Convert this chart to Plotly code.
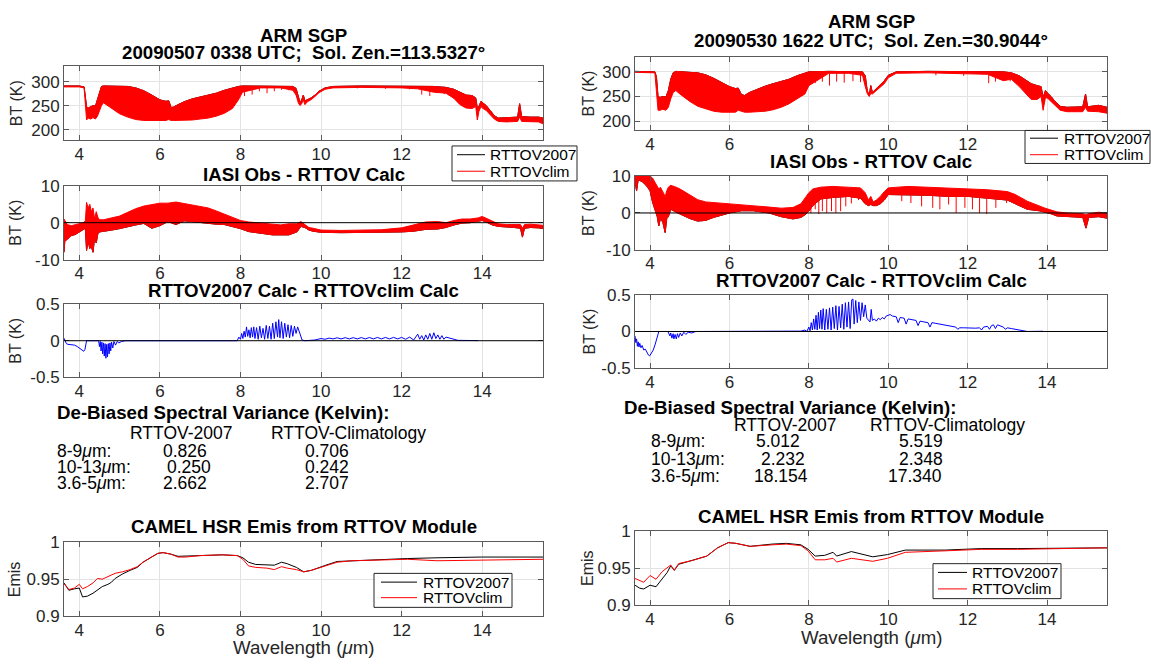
import plotly.graph_objects as go

FONT = "Liberation Sans, Arial, Helvetica, sans-serif"
W, H = 1151, 664

# ------------------------------------------------------------------ data
x_ticks = [4, 6, 8, 10, 12, 14]
legend_labels = ["RTTOV2007", "RTTOVclim"]

# ---- Left case (20090507 0338 UTC): simulated BT band (K)
wl_bt_l = [3.62, 4.00, 4.12, 4.15, 4.18, 4.22, 4.28, 4.34, 4.40, 4.45, 4.50, 4.55, 4.60, 4.70,
           4.80, 5.00, 5.20, 5.40, 5.60, 5.80, 6.00, 6.15, 6.22, 6.28, 6.34, 6.45, 6.60, 6.80,
           7.00, 7.20, 7.40, 7.60, 7.80, 7.95, 8.05, 8.50, 9.00, 9.30, 9.38, 9.44, 9.48, 9.52,
           9.56, 9.60, 9.66, 9.75, 9.85, 9.95, 10.10, 10.30, 11.00, 12.00, 12.40, 12.80, 13.10,
           13.30, 13.45, 13.60, 13.75, 13.84, 13.88, 13.92, 13.97, 14.02, 14.10, 14.20, 14.30,
           14.40, 14.60, 14.88, 14.93, 14.98, 15.20, 15.40, 15.51]
bt_hi_l = [291, 291, 289, 260, 248, 245, 247, 250, 249, 262, 280, 290, 291, 291,
           291, 290, 290, 287, 281, 272, 262, 259, 260, 246, 247, 252, 258, 264,
           268, 272, 276, 282, 287, 290, 291, 291, 291, 290, 286, 265, 256, 262,
           272, 260, 262, 266, 272, 280, 287, 290, 291, 291, 291, 290, 288,
           284, 278, 272, 271, 266, 245, 248, 259, 256, 250, 240, 229,
           224, 225, 226, 254, 227, 226, 226, 224]
bt_lo_l = [289, 289, 287, 240, 220, 224, 222, 225, 222, 228, 240, 250, 256, 250,
           245, 233, 226, 221, 219, 219, 219, 219, 221, 219, 219, 219, 219, 220,
           222, 224, 228, 234, 244, 262, 278, 287, 287, 282, 272, 255, 250, 254,
           262, 252, 258, 262, 269, 277, 284, 287, 288, 287, 285, 278, 276,
           265, 252, 245, 244, 248, 220, 238, 248, 244, 240, 232, 222,
           217, 216, 217, 226, 217, 217, 216, 212]
spk_bt_l_wl = [8.10, 8.29, 8.47, 8.66, 8.84, 9.02, 9.20, 10.90, 11.60, 12.20, 12.50, 12.70, 12.88, 13.06]
spk_bt_l_top = [289, 289, 289, 289, 289, 289, 289, 289, 289, 289, 289, 289, 289, 289]
spk_bt_l_bot = [270, 273, 280, 276, 280, 283, 282, 286, 285, 284, 273, 270, 276, 274]

# ---- Left case: IASI obs - RTTOV calc band (K)
wl_oc_l = [3.62, 3.64, 3.70, 3.80, 3.90, 4.00, 4.10, 4.15, 4.18, 4.22, 4.26, 4.30, 4.34, 4.38,
           4.42, 4.46, 4.50, 4.60, 4.80, 5.00, 5.20, 5.40, 5.60, 5.80, 6.00, 6.20, 6.40, 6.60,
           6.80, 7.00, 7.20, 7.40, 7.60, 7.80, 8.00, 8.20, 8.40, 8.60, 8.80, 9.00, 9.20, 9.40,
           9.50, 9.60, 9.70, 9.80, 10.00, 10.50, 11.00, 11.50, 12.00, 12.30, 12.60, 12.90, 13.10,
           13.30, 13.50, 13.70, 13.90, 14.00, 14.10, 14.25, 14.40, 14.60, 14.80, 14.95, 15.00,
           15.05, 15.20, 15.40, 15.51]
oc_hi_l = [1.0, 0.5, -0.5, -0.8, -0.6, -0.3, 0.0, 0.5, 5.5, 4.0, 5.0, 3.0, 4.0, 1.0,
           3.0, 1.5, 0.8, 0.8, 1.2, 1.8, 2.8, 3.8, 4.5, 5.0, 5.3, 5.3, 5.6, 5.2,
           4.8, 4.5, 4.0, 3.2, 2.3, 1.5, 0.6, 0.2, 0.0, -0.2, -0.5, -0.6, -0.3, -0.3,
           0.3, -0.5, -1.3, -1.5, -2.0, -2.1, -2.1, -1.9, -1.4, -0.6, 0.2, 0.3, 0.0,
           0.6, 1.0, 1.0, 1.3, 1.7, 1.2, 0.3, -0.3, -0.5, -0.6, -0.5, -1.5,
           -0.5, -0.4, -0.5, -0.7]
oc_lo_l = [-8.0, -5.0, -4.5, -3.5, -3.2, -2.5, -2.0, -1.5, -7.5, -5.0, -7.0, -6.5, -8.0, -4.0,
           -5.5, -3.0, -2.5, -2.4, -2.0, -1.6, -1.0, -0.6, -0.2, -1.5, -0.8, 0.3, -0.5, 0.5,
           0.3, 0.0, -0.2, -0.4, -0.5, -1.0, -1.6, -2.4, -2.8, -3.0, -3.3, -3.4, -3.3, -2.5,
           -1.0, -1.3, -2.0, -2.3, -2.6, -2.7, -2.7, -2.6, -2.5, -2.3, -1.8, -1.7, -1.3,
           -0.6, -0.1, 0.0, 0.3, 0.6, 0.2, -0.6, -1.0, -1.1, -1.3, -1.5, -3.9,
           -1.5, -1.3, -1.4, -1.6]

# ---- Left case: RTTOV2007 calc - RTTOVclim calc (K)
wl_dd_l = [3.62, 3.65, 3.68, 3.72, 3.80, 3.88, 3.95, 4.02, 4.08, 4.11, 4.14, 4.16, 4.18, 4.48,
           4.50, 4.52, 4.54, 4.56, 4.58, 4.60, 4.62, 4.64, 4.66, 4.68, 4.70, 4.72, 4.74, 4.76,
           4.78, 4.80, 4.83, 4.86, 4.90, 4.94, 4.98, 5.05, 5.15, 7.90,
           7.92, 7.96, 8.00, 8.03, 8.06, 8.09, 8.12, 8.15, 8.18, 8.21, 8.24, 8.27, 8.30, 8.33,
           8.36, 8.40, 8.44, 8.48, 8.52, 8.56, 8.60, 8.64, 8.68, 8.72, 8.76, 8.80, 8.84, 8.88,
           8.92, 8.95, 8.98, 9.02, 9.06, 9.10, 9.14, 9.18, 9.22, 9.26, 9.30, 9.34, 9.38, 9.42,
           9.46, 9.50, 9.53, 9.60, 9.75, 9.85, 10.00, 10.10, 10.20, 10.30, 10.40, 10.50, 10.60,
           10.70, 10.80, 10.90, 11.00, 11.10, 11.20, 11.30, 11.40, 11.50, 11.60, 11.70, 11.80,
           11.90, 12.00, 12.10, 12.20, 12.30, 12.40, 12.45, 12.50, 12.55, 12.60, 12.65, 12.70,
           12.75, 12.80, 12.85, 12.90, 12.95, 13.00, 13.05, 13.10, 13.20, 13.30, 13.40, 13.90]
dd_l = [0.035, 0.0, -0.04, -0.05, -0.055, -0.06, -0.08, -0.11, -0.14, -0.145, -0.12, -0.03, 0.0, 0.0,
        -0.08, -0.01, -0.14, -0.02, -0.18, -0.03, -0.21, -0.04, -0.24, -0.05, -0.22, -0.04, -0.18, -0.03,
        -0.14, -0.02, -0.10, -0.01, -0.06, -0.01, -0.03, -0.01, 0.0, 0.0,
        0.0, 0.05, 0.02, 0.10, 0.03, 0.13, 0.05, 0.19, 0.06, 0.15, 0.04, 0.18, 0.05, 0.19,
        0.03, 0.18, 0.02, 0.20, 0.04, 0.17, 0.02, 0.21, 0.03, 0.20, 0.02, 0.24, 0.03, 0.26,
        0.05, 0.29, 0.04, 0.26, 0.03, 0.24, 0.05, 0.22, 0.04, 0.21, 0.06, 0.20, 0.10, 0.19,
        0.12, 0.08, 0.01, 0.0, 0.0, 0.01, 0.03, 0.02, 0.036, 0.025, 0.04, 0.025, 0.042,
        0.025, 0.042, 0.025, 0.043, 0.025, 0.044, 0.025, 0.045, 0.025, 0.045, 0.025, 0.046,
        0.025, 0.046, 0.02, 0.05, 0.01, 0.09, 0.02, 0.07, 0.01, 0.08, 0.02, 0.10,
        0.02, 0.11, 0.03, 0.08, 0.02, 0.07, 0.02, 0.05, 0.03, 0.02, 0.005, 0.002]

# ---- Left case: CAMEL HSR emissivity
wl_em_l = [3.62, 3.74, 3.88, 4.00, 4.08, 4.20, 4.34, 4.45, 4.57, 4.71, 4.80, 4.89, 5.07, 5.26,
           5.44, 5.58, 5.76, 5.95, 6.08, 6.27, 6.45, 6.64, 7.00, 7.55, 7.92, 8.06, 8.20, 8.38,
           8.66, 8.84, 9.02, 9.16, 9.39, 9.57, 9.76, 9.94, 10.12, 10.40, 10.77, 11.23, 12.15,
           12.88, 13.98, 15.51]
em_2007_l = [0.945, 0.935, 0.937, 0.938, 0.926, 0.927, 0.931, 0.935, 0.940, 0.943, 0.946, 0.951,
             0.957, 0.962, 0.966, 0.973, 0.979, 0.985, 0.986, 0.984, 0.981, 0.981, 0.982, 0.983,
             0.982, 0.979, 0.973, 0.970, 0.970, 0.969, 0.973, 0.971, 0.966, 0.960, 0.962, 0.966,
             0.969, 0.974, 0.975, 0.976, 0.978, 0.979, 0.980, 0.980]
em_clim_l = [0.944, 0.936, 0.938, 0.943, 0.937, 0.940, 0.945, 0.951, 0.950, 0.954, 0.956, 0.958,
             0.960, 0.963, 0.967, 0.973, 0.979, 0.985, 0.986, 0.984, 0.980, 0.980, 0.982, 0.983,
             0.982, 0.977, 0.968, 0.966, 0.965, 0.963, 0.967, 0.965, 0.963, 0.960, 0.962, 0.965,
             0.968, 0.973, 0.975, 0.976, 0.977, 0.975, 0.976, 0.977]

# ---- Right case (20090530 1622 UTC): simulated BT band (K)
wl_bt_r = [3.62, 4.00, 4.12, 4.16, 4.20, 4.25, 4.32, 4.40, 4.46, 4.52, 4.58, 4.65, 4.75, 5.00,
           5.20, 5.40, 5.60, 5.80, 6.00, 6.15, 6.22, 6.30, 6.38, 6.50, 6.70, 6.90, 7.10, 7.30,
           7.50, 7.70, 7.90, 8.00, 8.50, 9.00, 9.35, 9.42, 9.47, 9.52, 9.56, 9.60, 9.70, 9.80,
           9.90, 10.00, 10.20, 11.00, 12.00, 12.50, 12.90, 13.10, 13.30, 13.45, 13.60, 13.75,
           13.85, 13.90, 13.96, 14.02, 14.10, 14.20, 14.33, 14.50, 14.90, 14.97, 15.02, 15.30, 15.51]
bt_hi_r = [301, 301, 300, 290, 250, 248, 250, 249, 262, 285, 298, 301, 300, 299,
           298, 294, 287, 278, 270, 266, 267, 254, 252, 258, 265, 271, 276, 280,
           285, 292, 298, 300, 301, 301, 300, 292, 262, 252, 272, 258, 266, 272,
           282, 293, 300, 301, 301, 301, 300, 298, 292, 284, 276, 272,
           270, 248, 262, 256, 250, 240, 230, 228, 229, 255, 229, 232, 228]
bt_lo_r = [299, 299, 298, 260, 222, 222, 224, 222, 228, 245, 258, 262, 255, 240,
           230, 225, 220, 218, 218, 218, 222, 220, 218, 218, 219, 220, 223, 228,
           235, 245, 255, 272, 297, 297, 293, 270, 256, 250, 256, 255, 262, 268,
           276, 288, 297, 298, 297, 295, 282, 285, 270, 258, 244, 244,
           250, 222, 248, 246, 240, 232, 222, 219, 219, 228, 220, 219, 216]
spk_bt_r_wl = [8.16, 8.34, 8.52, 8.70, 8.89, 9.11, 9.30, 11.20, 11.90, 12.53, 12.70, 12.89, 13.07]
spk_bt_r_top = [299, 299, 299, 299, 299, 299, 299, 299, 299, 299, 299, 299, 299]
spk_bt_r_bot = [277, 280, 272, 280, 278, 281, 279, 293, 292, 277, 280, 284, 281]

# ---- Right case: IASI obs - RTTOV calc band (K)
wl_oc_r = [3.62, 3.66, 3.70, 3.80, 3.90, 4.00, 4.06, 4.12, 4.18, 4.22, 4.26, 4.32, 4.38, 4.42,
           4.46, 4.52, 4.60, 4.70, 4.80, 5.00, 5.20, 5.40, 5.60, 5.80, 6.00, 6.30, 6.60, 7.00,
           7.30, 7.60, 7.80, 7.90, 8.00, 8.10, 8.30, 8.60, 9.00, 9.30, 9.42, 9.50, 9.56, 9.62,
           9.70, 9.80, 9.90, 10.00, 10.50, 11.00, 11.50, 12.00, 12.50, 13.00, 13.20, 13.50,
           13.80, 13.95, 14.10, 14.25, 14.50, 14.90, 14.98, 15.05, 15.30, 15.51]
oc_hi_r = [10, 10, 10, 10, 10, 10, 9.5, 8.5, 7.5, 6.5, 7.0, 5.5, 4.5, 6.0,
           7.0, 7.5, 7.2, 6.8, 6.2, 5.0, 3.6, 3.0, 2.8, 2.6, 2.5, 2.3, 2.0, 1.6,
           1.3, 1.5, 2.5, 4.0, 5.5, 6.5, 7.0, 7.2, 7.0, 6.8, 5.5, 3.5, 4.5, 3.0,
           3.5, 4.5, 5.8, 6.8, 7.2, 7.0, 6.8, 6.6, 6.3, 5.8, 5.0, 3.2,
           1.8, 1.3, 0.8, 0.3, 0.0, -0.2, -0.5, -0.2, 0.2, 0.0]
oc_lo_r = [8.5, 6.0, 9.0, 8.5, 7.5, 6.0, 3.0, 1.0, -1.0, -3.5, -1.5, -2.5, -5.3, -1.5,
           -1.0, 1.0, 0.5, 0.0, -0.5, -1.5, -2.2, -2.0, -1.2, -0.5, 0.0, 0.6, 0.6, 0.0,
           -1.0, -1.6, -1.2, -0.5, 0.5, 2.0, 3.8, 4.2, 4.5, 4.0, 2.5, 2.0, 2.3, 2.0,
           2.0, 2.5, 3.5, 5.0, 5.0, 4.8, 4.5, 4.5, 4.0, 3.5, 2.5, 1.0,
           0.6, 0.3, -0.2, -0.8, -1.0, -1.2, -4.1, -1.2, -1.0, -1.4]
spk_oc_r_wl = [8.05, 8.16, 8.25, 8.34, 8.45, 8.57, 8.68, 8.80, 8.93, 9.07, 9.25, 10.34, 10.57,
               10.84, 11.12, 11.30, 11.52, 11.71, 11.93, 12.12, 12.30, 12.48, 12.71, 12.98]
spk_oc_r_top = [4.5, 4.5, 4.5, 4.5, 4.5, 4.5, 4.5, 4.5, 4.5, 4.5, 4.5, 5.0, 5.0,
                5.0, 4.8, 4.8, 4.5, 4.5, 4.5, 4.5, 4.5, 4.0, 4.0, 3.5]
spk_oc_r_bot = [0.0, 1.0, -0.3, 0.5, 0.0, 0.5, 0.0, 0.5, 1.8, 2.6, 3.5, 3.2, 2.7,
                1.8, 1.4, 1.0, 2.3, 0.0, 1.4, 1.0, 0.0, -0.3, 1.4, 2.7]

# ---- Right case: RTTOV2007 calc - RTTOVclim calc (K)
wl_dd_r = [3.62, 3.64, 3.66, 3.68, 3.70, 3.72, 3.74, 3.77, 3.80, 3.84, 3.88, 3.92, 3.96, 3.99,
           4.03, 4.08, 4.13, 4.18, 4.22, 4.45, 4.48, 4.50, 4.52, 4.55, 4.58, 4.60, 4.63, 4.66,
           4.69, 4.72, 4.76, 4.80, 4.85, 4.90, 4.96, 5.05, 5.15, 7.45, 7.60, 7.80, 7.90, 7.95,
           8.00, 8.03, 8.06, 8.09, 8.12, 8.15, 8.18, 8.21, 8.24, 8.27, 8.30, 8.33, 8.36, 8.40,
           8.44, 8.48, 8.52, 8.56, 8.60, 8.64, 8.68, 8.72, 8.76, 8.80, 8.84, 8.88, 8.92, 8.96,
           9.00, 9.04, 9.08, 9.11, 9.14, 9.18, 9.22, 9.26, 9.30, 9.34, 9.38, 9.42, 9.46, 9.50,
           9.54, 9.57, 9.60, 9.65, 9.70, 9.75, 9.80, 9.85, 9.90, 9.95, 10.00, 10.05, 10.10,
           10.20, 10.25, 10.30, 10.40, 10.45, 10.50, 10.60, 10.70, 10.75, 10.80, 10.90, 11.00,
           11.05, 11.10, 11.20, 11.30, 11.40, 11.50, 11.60, 11.70, 11.75, 11.80, 11.90, 12.00,
           12.10, 12.20, 12.30, 12.35, 12.40, 12.50, 12.55, 12.60, 12.65, 12.70, 12.75, 12.80,
           12.90, 12.95, 13.00, 13.10, 13.20, 13.30, 13.40, 13.50, 13.90]
dd_r = [-0.06, -0.15, -0.10, -0.20, -0.14, -0.21, -0.16, -0.22, -0.19, -0.25, -0.24, -0.29, -0.32, -0.33,
        -0.30, -0.25, -0.17, -0.08, 0.0, 0.0, -0.03, -0.06, -0.02, -0.09, -0.03, -0.10, -0.04, -0.10,
        -0.03, -0.08, -0.02, -0.06, -0.01, -0.04, -0.01, -0.02, 0.0, 0.0, 0.01, 0.005, 0.02, 0.0,
        0.06, 0.01, 0.12, 0.02, 0.17, 0.03, 0.22, 0.02, 0.26, 0.04, 0.29, 0.03, 0.31, 0.02,
        0.30, 0.03, 0.32, 0.02, 0.33, 0.04, 0.35, 0.02, 0.34, 0.05, 0.37, 0.03, 0.39, 0.06,
        0.40, 0.04, 0.43, 0.44, 0.10, 0.42, 0.12, 0.40, 0.15, 0.39, 0.20, 0.36, 0.18, 0.16,
        0.13, 0.30, 0.15, 0.17, 0.14, 0.18, 0.16, 0.19, 0.17, 0.21, 0.22, 0.23, 0.21,
        0.20, 0.12, 0.19, 0.18, 0.10, 0.17, 0.16, 0.15, 0.08, 0.14, 0.13, 0.12,
        0.06, 0.12, 0.11, 0.10, 0.10, 0.08, 0.07, 0.06, 0.03, 0.05, 0.05, 0.045,
        0.05, 0.045, 0.05, 0.02, 0.06, 0.07, 0.03, 0.08, 0.09, 0.04, 0.09, 0.08,
        0.06, 0.03, 0.05, 0.04, 0.03, 0.02, 0.01, 0.0, 0.003]

# ---- Right case: CAMEL HSR emissivity
wl_em_r = [3.62, 3.74, 3.84, 4.00, 4.15, 4.30, 4.43, 4.52, 4.61, 4.72, 5.06, 5.43, 5.70, 5.97,
           6.16, 6.52, 7.07, 7.43, 7.80, 7.98, 8.16, 8.40, 8.61, 8.70, 9.07, 9.43, 9.61, 9.98,
           10.43, 11.43, 12.34, 13.25, 15.51]
em_2007_r = [0.927, 0.923, 0.922, 0.927, 0.925, 0.935, 0.944, 0.953, 0.947, 0.955, 0.960, 0.966,
             0.977, 0.984, 0.983, 0.979, 0.982, 0.983, 0.981, 0.975, 0.966, 0.967, 0.971, 0.966,
             0.972, 0.968, 0.965, 0.968, 0.974, 0.974, 0.976, 0.976, 0.977]
em_clim_r = [0.936, 0.933, 0.931, 0.940, 0.935, 0.945, 0.951, 0.954, 0.947, 0.956, 0.960, 0.966,
             0.977, 0.984, 0.983, 0.979, 0.981, 0.982, 0.980, 0.973, 0.961, 0.961, 0.963, 0.958,
             0.963, 0.960, 0.959, 0.963, 0.971, 0.973, 0.975, 0.975, 0.977]

# ---- De-biased spectral variance tables (K)
var_bands = ["8-9<i>μ</i>m:", "10-13<i>μ</i>m:", "3.6-5<i>μ</i>m:"]
var_2007_l = ["0.826", "0.250", "2.662"]
var_clim_l = ["0.706", "0.242", "2.707"]
var_2007_r = ["5.012", "2.232", "18.154"]
var_clim_r = ["5.519", "2.348", "17.340"]

# ------------------------------------------------------------------ layout helpers
def fx(p):
    return p / W


def fy(p):
    return 1 - p / H


AX = "#5a5a5a"
GRID = "#e3e3e3"
TICKC = "#262626"
X_RANGE = [3.62, 15.51]
RED, BLACK, BLUE = "#ff0000", "#000000", "#0000ff"

col_l = (64, 543)
col_r = (635, 1107)
rows_l = [(59, 135), (182, 258), (304, 379), (549, 625)]
rows_r = [(49, 125), (172, 248), (294, 370), (537, 614)]

y_specs = [
    dict(range=[178, 332], tickvals=[200, 250, 300], ticktext=["200", "250", "300"]),
    dict(range=[-10, 10], tickvals=[-10, 0, 10], ticktext=["-10", "0", "10"]),
    dict(range=[-0.5, 0.5], tickvals=[-0.5, 0, 0.5], ticktext=["-0.5", "0", "0.5"]),
    dict(range=[0.9, 1.0], tickvals=[0.9, 0.95, 1.0], ticktext=["0.9", "0.95", "1"]),
]
y_specs_r = [dict(y_specs[0], range=[181, 331])] + y_specs[1:]

layout = dict(
    width=W, height=H, margin=dict(l=0, r=0, t=0, b=0),
    paper_bgcolor="white", plot_bgcolor="white",
    font=dict(family=FONT, size=17, color=TICKC),
    showlegend=False,
)

common_axis = dict(
    ticks="inside", ticklen=5, tickcolor=AX, tickwidth=1,
    showline=True, linecolor=AX, linewidth=1, mirror="ticks",
    showgrid=True, gridcolor=GRID, gridwidth=1, zeroline=False,
    tickfont=dict(family=FONT, size=17, color=TICKC), fixedrange=True,
)

for c, (col, rows, ys) in enumerate([(col_l, rows_l, y_specs), (col_r, rows_r, y_specs_r)]):
    for r in range(4):
        i = c * 4 + r + 1
        top, bot = rows[r]
        layout[f"xaxis{i}"] = dict(
            common_axis, domain=[fx(col[0]), fx(col[1])], anchor=f"y{i}",
            range=X_RANGE, tickvals=x_ticks, ticktext=[str(t) for t in x_ticks],
            ticklabelstandoff=-2,
        )
        layout[f"yaxis{i}"] = dict(
            common_axis, domain=[fy(bot), fy(top)], anchor=f"x{i}",
            range=ys[r]["range"], tickvals=ys[r]["tickvals"], ticktext=ys[r]["ticktext"],
        )

fig = go.Figure(layout=layout)


def line(ax, x, y, color, name=""):
    fig.add_trace(go.Scatter(
        x=x, y=y, mode="lines", line=dict(color=color, width=1),
        xaxis=f"x{ax}", yaxis=f"y{ax}", name=name, hoverinfo="skip",
    ))


def band(ax, x, hi, lo, color, name=""):
    fig.add_trace(go.Scatter(
        x=x, y=hi, mode="lines", line=dict(color=color, width=1),
        xaxis=f"x{ax}", yaxis=f"y{ax}", name=name, hoverinfo="skip",
    ))
    fig.add_trace(go.Scatter(
        x=x, y=lo, mode="lines", line=dict(color=color, width=1), fill="tonexty",
        fillcolor=color, xaxis=f"x{ax}", yaxis=f"y{ax}", name=name, hoverinfo="skip",
    ))


def spikes(ax, wl, top, bot, color):
    xs, ys = [], []
    for w, t, b in zip(wl, top, bot):
        xs += [w, w, None]
        ys += [t, b, None]
    fig.add_trace(go.Scatter(
        x=xs, y=ys, mode="lines", line=dict(color=color, width=1),
        xaxis=f"x{ax}", yaxis=f"y{ax}", hoverinfo="skip",
    ))


# ---- left column
line(1, wl_bt_l, bt_hi_l, BLACK, legend_labels[0])
band(1, wl_bt_l, bt_hi_l, bt_lo_l, RED, legend_labels[1])
spikes(1, spk_bt_l_wl, spk_bt_l_top, spk_bt_l_bot, RED)
line(2, wl_oc_l, oc_lo_l, BLACK, legend_labels[0])
band(2, wl_oc_l, oc_hi_l, oc_lo_l, RED, legend_labels[1])
line(3, wl_dd_l, dd_l, BLUE)
line(4, wl_em_l, em_2007_l, BLACK, legend_labels[0])
line(4, wl_em_l, em_clim_l, RED, legend_labels[1])

# ---- right column
line(5, wl_bt_r, bt_hi_r, BLACK, legend_labels[0])
band(5, wl_bt_r, bt_hi_r, bt_lo_r, RED, legend_labels[1])
spikes(5, spk_bt_r_wl, spk_bt_r_top, spk_bt_r_bot, RED)
line(6, wl_oc_r, oc_lo_r, BLACK, legend_labels[0])
band(6, wl_oc_r, oc_hi_r, oc_lo_r, RED, legend_labels[1])
spikes(6, spk_oc_r_wl, spk_oc_r_top, spk_oc_r_bot, RED)
line(7, wl_dd_r, dd_r, BLUE)
line(8, wl_em_r, em_2007_r, BLACK, legend_labels[0])
line(8, wl_em_r, em_clim_r, RED, legend_labels[1])

shapes = []
# zero reference lines in the difference panels (drawn above the data)
for ax in (2, 3, 6, 7):
    shapes.append(dict(type="line", xref=f"x{ax}", yref=f"y{ax}", x0=X_RANGE[0], x1=X_RANGE[1],
                       y0=0, y1=0, line=dict(color="black", width=1), layer="above"))

ann = []


def text(x, y, s, size=17.5, bold=False, anchor="center", color="black", angle=0):
    ann.append(dict(
        x=fx(x), y=fy(y), xref="paper", yref="paper", text=f"<b>{s}</b>" if bold else s,
        showarrow=False, xanchor=anchor, yanchor="middle", textangle=angle,
        font=dict(family=FONT, size=size, color=color),
    ))


# ---- MATLAB-style legend boxes (box, line sample x-extent, text x, row y's)
legend_boxes = [
    ((452, 577, 141, 177), (457, 485), 488, (150, 167)),
    ((1025, 1150, 125, 159), (1030, 1058), 1062, (133, 150)),
    ((374, 512, 581, 616), (381, 417), 421, (590, 606)),
    ((933, 1061, 571, 607), (938, 967), 970, (580, 597)),
]
for (bx0, bx1, by0, by1), (lx0, lx1), tx, rws in legend_boxes:
    shapes.append(dict(type="rect", xref="paper", yref="paper", x0=fx(bx0), x1=fx(bx1),
                       y0=fy(by1), y1=fy(by0), line=dict(color="#262626", width=1),
                       fillcolor="white", layer="above"))
    for yy, colr, lab in zip(rws, [BLACK, RED], legend_labels):
        shapes.append(dict(type="line", xref="paper", yref="paper", x0=fx(lx0), x1=fx(lx1),
                           y0=fy(yy), y1=fy(yy), line=dict(color=colr, width=1), layer="above"))
        text(tx, yy, lab, 15.5, anchor="left")

TS = 18.7
for col, rows, t1, title_y, label_x, emis_x, xl_y in [
    (col_l, rows_l, 27, (170, 290, 533), 16, 14, 657),
    (col_r, rows_r, 13, (157, 280, 522), 589, 587, 647),
]:
    cx = (col[0] + col[1]) / 2
    text(cx, t1, "ARM SGP", TS, True)
    text(cx, title_y[0], "IASI Obs - RTTOV Calc", TS, True)
    text(cx, title_y[1], "RTTOV2007 Calc - RTTOVclim Calc", TS, True)
    text(cx, title_y[2], "CAMEL HSR Emis from RTTOV Module", TS, True)
    text(cx, xl_y, "Wavelength (<i>μ</i>m)", TS, color=TICKC)
    for r in range(3):
        text(label_x, (rows[r][0] + rows[r][1]) / 2, "BT (K)", 16, color=TICKC, angle=-90)
    text(emis_x, (rows[3][0] + rows[3][1]) / 2, "Emis", 16, color=TICKC, angle=-90)

text((col_l[0] + col_l[1]) / 2, 45, "20090507 0338 UTC;\u00a0 Sol. Zen.=113.5327°", TS, True)
text((col_r[0] + col_r[1]) / 2, 32, "20090530 1622 UTC;\u00a0 Sol. Zen.=30.9044°", TS, True)

# ---- variance tables
text(55, 415, "De-Biased Spectral Variance (Kelvin):", TS, True, "left")
text(128, 437, "RTTOV-2007", 17.5, anchor="left")
text(269, 437, "RTTOV-Climatology", 17.5, anchor="left")
for k, (yy, x1) in enumerate(zip([455, 472, 488], [161, 165, 161])):
    text(55, yy, var_bands[k], 17.5, anchor="left")
    text(x1, yy, var_2007_l[k], 17.5, anchor="left")
    text(303, yy, var_clim_l[k], 17.5, anchor="left")

text(622, 410, "De-Biased Spectral Variance (Kelvin):", TS, True, "left")
text(732, 428, "RTTOV-2007", 17.5, anchor="left")
text(868, 428, "RTTOV-Climatology", 17.5, anchor="left")
for k, (yy, x1, x2) in enumerate(zip([445, 463, 481], [754, 759, 752], [897, 897, 886])):
    text(649, yy, var_bands[k], 17.5, anchor="left")
    text(x1, yy, var_2007_r[k], 17.5, anchor="left")
    text(x2, yy, var_clim_r[k], 17.5, anchor="left")

fig.update_layout(annotations=ann, shapes=shapes)
fig.write_html("out.html")
